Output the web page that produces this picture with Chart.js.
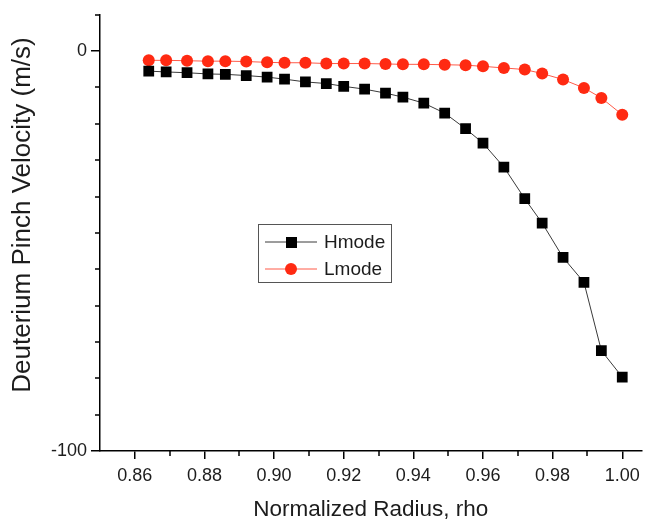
<!DOCTYPE html>
<html>
<head>
<meta charset="utf-8">
<script src="https://cdn.jsdelivr.net/npm/chart.js@4.4.0/dist/chart.umd.min.js"></script>
<style>
  html, body { margin: 0; padding: 0; background: #fff; }
</style>
</head>
<body>
<canvas id="chart" width="649" height="523"></canvas>
<script>
// Data
const rho = [0.864, 0.869, 0.875, 0.881, 0.886, 0.892, 0.898, 0.903, 0.909, 0.915, 0.920, 0.926, 0.932,
             0.937, 0.943, 0.949, 0.955, 0.960, 0.966, 0.972, 0.977, 0.983, 0.989, 0.994, 1.000];
const hmode = [-5.0, -5.2, -5.4, -5.7, -5.8, -6.1, -6.5, -7.0, -7.7, -8.1, -8.8, -9.5, -10.5,
               -11.5, -13.0, -15.5, -19.4, -23.0, -29.0, -36.9, -43.0, -51.6, -57.8, -74.9, -81.5];
const lmode = [-2.3, -2.3, -2.4, -2.5, -2.5, -2.6, -2.8, -2.9, -2.9, -3.1, -3.1, -3.1, -3.2,
               -3.3, -3.3, -3.4, -3.5, -3.8, -4.2, -4.6, -5.6, -7.1, -9.2, -11.7, -15.9];

const seriesNames = ['Hmode', 'Lmode'];

// Tick labels
const xTicks = [0.86, 0.88, 0.90, 0.92, 0.94, 0.96, 0.98, 1.00];
const xMinorTicks = [0.87, 0.89, 0.91, 0.93, 0.95, 0.97, 0.99];
const yTicks = [-100, 0];
const yMinorTicks = [-90.91, -81.82, -72.73, -63.64, -54.55, -45.45, -36.36, -27.27, -18.18, -9.09, 9.09];

const yTitle = 'Deuterium Pinch Velocity (m/s)';

const FONT = "'Liberation Sans', Arial, Helvetica, sans-serif";
const TEXT = '#1c1c1c';

// small ticks between the labelled ones
const minorTicks = {
    id: 'minorTicks',
    afterDraw(chart) {
        const ctx = chart.ctx;
        const xs = chart.scales.x, ys = chart.scales.y;
        ctx.save();
        ctx.strokeStyle = '#000';
        ctx.lineWidth = 1.5;
        ctx.beginPath();
        xMinorTicks.forEach(v => {
            const px = Math.round(xs.getPixelForValue(v));
            ctx.moveTo(px, xs.top);
            ctx.lineTo(px, xs.top + 5);
        });
        yMinorTicks.forEach(v => {
            const py = Math.round(ys.getPixelForValue(v));
            ctx.moveTo(ys.right, py);
            ctx.lineTo(ys.right - 5, py);
        });
        ctx.stroke();
        ctx.restore();
    }
};

// vertical axis title, sits a little above the middle of the axis in the original
const yTitlePlugin = {
    id: 'yTitle',
    afterDraw(chart) {
        const ctx = chart.ctx;
        ctx.save();
        ctx.translate(23, 215);
        ctx.rotate(-Math.PI / 2);
        ctx.font = '26px ' + FONT;
        ctx.fillStyle = TEXT;
        ctx.textAlign = 'center';
        ctx.textBaseline = 'middle';
        ctx.fillText(yTitle, 0, 0);
        ctx.restore();
    }
};

// boxed legend inside the plot
const boxLegend = {
    id: 'boxLegend',
    afterDatasetsDraw(chart) {
        const ctx = chart.ctx;
        const left = 258, top = 224, w = 133, h = 58;
        ctx.save();
        ctx.fillStyle = '#fff';
        ctx.fillRect(left, top, w, h);
        ctx.strokeStyle = '#555';
        ctx.lineWidth = 1;
        ctx.strokeRect(left + 0.5, top + 0.5, w, h);
        ctx.font = '19px ' + FONT;
        ctx.textBaseline = 'middle';
        chart.data.datasets.forEach((ds, i) => {
            const y = top + 18 + i * 27;
            ctx.strokeStyle = ds.borderColor;
            ctx.lineWidth = 1;
            ctx.beginPath();
            ctx.moveTo(left + 7, y);
            ctx.lineTo(left + 59, y);
            ctx.stroke();
            ctx.fillStyle = ds.pointBackgroundColor;
            if (ds.pointStyle === 'rect') {
                ctx.fillRect(left + 28, y - 5, 11, 11);
            } else {
                ctx.beginPath();
                ctx.arc(left + 33, y, 6, 0, Math.PI * 2);
                ctx.fill();
            }
            ctx.fillStyle = TEXT;
            ctx.fillText(ds.label, left + 66, y + 1);
        });
        ctx.restore();
    }
};

const ctx = document.getElementById('chart').getContext('2d');
new Chart(ctx, {
    type: 'line',
    data: {
        datasets: [{
            label: seriesNames[0],
            data: rho.map((x, i) => ({x: x, y: hmode[i]})),
            borderColor: '#3a3a3a',
            borderWidth: 1,
            pointStyle: 'rect',
            pointRadius: 7.6,
            pointBackgroundColor: '#000',
            pointBorderColor: '#000',
            pointBorderWidth: 0,
            tension: 0
        }, {
            label: seriesNames[1],
            data: rho.map((x, i) => ({x: x, y: lmode[i]})),
            borderColor: '#ff5a48',
            borderWidth: 1,
            pointStyle: 'circle',
            pointRadius: 6,
            pointBackgroundColor: '#ff2a12',
            pointBorderColor: '#ff2a12',
            pointBorderWidth: 0,
            tension: 0
        }]
    },
    options: {
        responsive: false,
        animation: false,
        devicePixelRatio: 1,
        layout: { padding: { top: 13, right: 4, left: 0, bottom: 0 } },
        plugins: {
            legend: { display: false },
            tooltip: { enabled: false }
        },
        scales: {
            x: {
                type: 'linear',
                min: 0.85,
                max: 1.0055,
                afterBuildTicks: (scale) => { scale.ticks = xTicks.map(v => ({value: v})); },
                afterFit: (scale) => { scale.height = 72; },
                ticks: {
                    color: TEXT,
                    font: { family: FONT, size: 18 },
                    padding: 6,
                    maxRotation: 0,
                    callback: (v) => Number(v).toFixed(2)
                },
                grid: { drawOnChartArea: false, drawTicks: true, tickLength: 8, color: '#000', lineWidth: 1.5 },
                border: { display: true, color: '#000', width: 1.5 },
                title: {
                    display: true,
                    text: 'Normalized Radius, rho',
                    color: TEXT,
                    font: { family: FONT, size: 22.5 },
                    padding: { top: 0, bottom: 0 }
                }
            },
            y: {
                type: 'linear',
                min: -100,
                max: 9.09,
                afterBuildTicks: (scale) => { scale.ticks = yTicks.map(v => ({value: v})); },
                afterFit: (scale) => { scale.width = 100; },
                ticks: {
                    color: TEXT,
                    font: { family: FONT, size: 18 },
                    padding: 4,
                    callback: (v) => String(v)
                },
                grid: { drawOnChartArea: false, drawTicks: true, tickLength: 9, color: '#000', lineWidth: 1.5 },
                border: { display: true, color: '#000', width: 1.5 },
                title: { display: false }
            }
        }
    },
    plugins: [minorTicks, yTitlePlugin, boxLegend]
});
</script>
</body>
</html>
